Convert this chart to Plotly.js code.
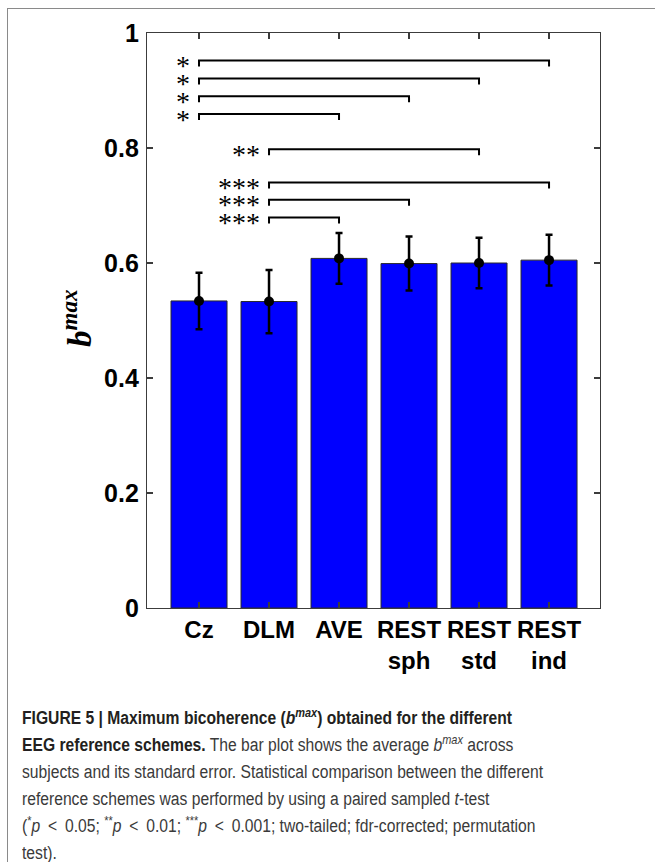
<!DOCTYPE html>
<html>
<head>
<meta charset="utf-8">
<script src="https://cdn.plot.ly/plotly-3.0.1.min.js"></script>
<style>
  html, body { margin: 0; padding: 0; background: #ffffff; overflow: hidden; }
  #frame { position: absolute; left: 7px; top: 8px; width: 720px; height: 900px;
           border-top: 1.5px solid #8a8a8a; border-left: 1.5px solid #8a8a8a; z-index: 0; }
  #chart { position: absolute; left: 0; top: 0; width: 655px; height: 862px; z-index: 1; }
  #caption { position: absolute; left: 22px; top: 705px; z-index: 2;
             font-family: "Liberation Sans", Arial, sans-serif; font-size: 18px; line-height: 27px;
             color: #3a3a3a; white-space: nowrap; transform: scaleX(0.87); transform-origin: 0 0; }
  #caption b { color: #231f20; }
  #caption sup { font-size: 70%; line-height: 0; }
</style>
</head>
<body>
<div id="frame"></div>
<div id="chart"></div>
<div id="caption"></div>
<script>
// ---- data ----
const categories = ['Cz', 'DLM', 'AVE', 'REST<br>sph', 'REST<br>std', 'REST<br>ind'];
const meanBmax   = [0.534, 0.533, 0.608, 0.599, 0.600, 0.605];
const stdError   = [0.049, 0.055, 0.044, 0.047, 0.044, 0.044];
const yTickVals  = [0, 0.2, 0.4, 0.6, 0.8, 1];
const yTickText  = ['0', '0.2', '0.4', '0.6', '0.8', '1'];
// significance brackets (category indices)
const bracketFrom  = [0, 0, 0, 0, 1, 1, 1, 1];
const bracketTo    = [5, 4, 3, 2, 4, 5, 3, 2];
const bracketLevel = [0.952, 0.921, 0.890, 0.859, 0.798, 0.740, 0.710, 0.679];
const bracketStars = [1, 1, 1, 1, 2, 3, 3, 3];
const captionLines = [
  '<b>FIGURE 5 | Maximum bicoherence (<i>b</i><sup><i>max</i></sup>) obtained for the different</b>',
  '<b>EEG reference schemes.</b> The bar plot shows the average <i>b</i><sup><i>max</i></sup> across',
  'subjects and its standard error. Statistical comparison between the different',
  'reference schemes was performed by using a paired sampled <i>t</i>-test',
  '(<sup>*</sup><i>p</i>&ensp;&lt;&ensp;0.05; <sup>**</sup><i>p</i>&ensp;&lt;&ensp;0.01; <sup>***</sup><i>p</i>&ensp;&lt;&ensp;0.001; two-tailed; fdr-corrected; permutation',
  'test).'
];

// ---- layout geometry ----
const W = 655, H = 862;
const M = {l: 147, r: 55, t: 33, b: 254};
const plotW = W - M.l - M.r, plotH = H - M.t - M.b;
const px2paperX = p => (p - M.l) / plotW;
const py2paperY = p => (H - M.b - p) / plotH;
const xIdx = categories.map((_, i) => i);
const drop = 6 / plotH; // bracket end drop, in data units

// bracket path
const bx = [], by = [];
bracketFrom.forEach((f, k) => {
  const t = bracketTo[k], y = bracketLevel[k];
  bx.push(f, f, t, t, null);
  by.push(y - drop, y, y, y - drop, null);
});

const traces = [
  {
    type: 'bar', x: xIdx, y: meanBmax, width: 0.8,
    marker: {color: '#0000ff', line: {color: '#2a2a2a', width: 1}},
    hoverinfo: 'skip'
  },
  {
    type: 'scatter', mode: 'markers', x: xIdx, y: meanBmax,
    marker: {color: '#000000', size: 10},
    error_y: {type: 'data', array: stdError, visible: true, color: '#000000', thickness: 2.5, width: 3.5},
    hoverinfo: 'skip'
  },
  {
    type: 'scatter', mode: 'lines', x: bx, y: by,
    line: {color: '#000000', width: 2}, connectgaps: false, hoverinfo: 'skip'
  }
];

const annotations = [];
bracketFrom.forEach((f, k) => {
  annotations.push({
    x: f, y: bracketLevel[k], xref: 'x', yref: 'y',
    text: '*'.repeat(bracketStars[k]), showarrow: false,
    xanchor: 'right', yanchor: 'middle', xshift: -7, yshift: -5,
    font: {family: 'Liberation Serif, Times New Roman, serif', size: 28, color: '#000000'}
  });
});
// y axis label
annotations.push({
  x: px2paperX(77), y: py2paperY(318), xref: 'paper', yref: 'paper',
  text: '<b><i>b</i></b><sup><b><i>max</i></b></sup>', showarrow: false, textangle: -90,
  xanchor: 'center', yanchor: 'middle',
  font: {family: 'Liberation Serif, Times New Roman, serif', size: 33, color: '#000000'}
});

document.getElementById('caption').innerHTML = captionLines.join('<br>');

const axisCommon = {
  showline: true, linecolor: '#3c3c3c', linewidth: 1.2, mirror: 'ticks',
  ticks: 'inside', ticklen: 6, tickwidth: 1.2, tickcolor: '#3c3c3c',
  showgrid: false, zeroline: false, fixedrange: true,
  tickfont: {family: 'Liberation Sans, Arial, sans-serif', size: 25, color: '#000000', weight: 'bold'}
};

const layout = {
  width: W, height: H,
  margin: M,
  paper_bgcolor: 'rgba(0,0,0,0)', plot_bgcolor: '#ffffff',
  showlegend: false,
  xaxis: Object.assign({}, axisCommon, {
    range: [-0.743, 5.728], tickvals: xIdx, ticktext: categories.map(c => '<b>' + c + '</b>'), tickangle: 0,
    tickfont: Object.assign({}, axisCommon.tickfont, {size: 24})
  }),
  yaxis: Object.assign({}, axisCommon, {
    range: [0, 1], tickvals: yTickVals, ticktext: yTickText.map(t => '<b>' + t + '</b>'),
    ticklabelstandoff: 2
  }),
  annotations: annotations
};

Plotly.newPlot('chart', traces, layout, {displayModeBar: false, staticPlot: true});
</script>
</body>
</html>
